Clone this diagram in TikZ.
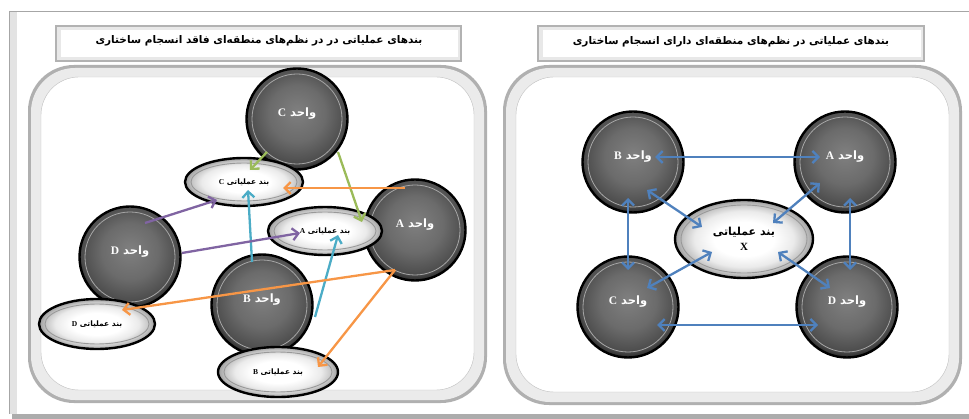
\documentclass[tikz,border=0pt]{standalone}
\usepackage{fontspec}
\usetikzlibrary{shapes.geometric,arrows.meta,calc}
\TeXXeTstate=1
\newfontfamily\fafont[Script=Arabic]{DejaVu Sans}
\newfontfamily\latfont{Liberation Serif}
\newcommand{\fa}[1]{{\fafont\bfseries\beginR #1\endR}}
\newcommand{\lt}[1]{{\latfont\bfseries #1}}

\definecolor{bandblue}{HTML}{4F81BD}
\definecolor{bandgreen}{HTML}{9BBB59}
\definecolor{bandorange}{HTML}{F79646}
\definecolor{bandcyan}{HTML}{4BACC6}
\definecolor{bandpurple}{HTML}{8064A2}

\pgfdeclareradialshading{unitshade}{\pgfpoint{0bp}{4bp}}{%
  color(0bp)=(black!50); color(14bp)=(black!58); color(24bp)=(black!70);
  color(26bp)=(black!80); color(50bp)=(black!80)}
\pgfdeclareradialshading{clauseshade}{\pgfpoint{0bp}{0bp}}{%
  color(0bp)=(white); color(11bp)=(white); color(18bp)=(black!8);
  color(22bp)=(black!22); color(25bp)=(black!38); color(50bp)=(black!38)}

\tikzset{
  >={Straight Barb[length=6pt,width=12pt]},
  unit/.style={circle,draw=black,line width=2.4pt,minimum size=101pt,inner sep=0pt,
    shading=unitshade,
    path picture={\draw[black!35,line width=0.8pt] (path picture bounding box.center) circle (45pt);}},
  unittext/.style={text=white,font=\fontsize{11.5}{12}\selectfont,yshift=5pt},
  clause/.style n args={2}{ellipse,draw=black,line width=2.4pt,inner sep=0pt,
    minimum width=#1,minimum height=#2,
    shading=clauseshade,
    path picture={\draw[black!40,line width=0.9pt] (path picture bounding box.center)
      ellipse [x radius=#1/2-6pt, y radius=#2/2-5pt];}},
  clausetext/.style={font=\fontsize{7.5}{8}\selectfont},
  link/.style={line width=2.3pt},
}

\begin{document}
\begin{tikzpicture}[x=1pt,y=-1pt]
  \useasboundingbox (0,0) rectangle (969,419);
  \fill[white] (0,0) rectangle (969,419);

  % outer frame
  \fill[gray!22] (9,11) rectangle (17,414);
  \draw[gray!70] (9,11) -- (969,11);
  \draw[gray!70] (9,11) -- (9,414);
  \fill[gray!65] (12,414) rectangle (969,419);

  % title boxes
  \fill[gray!60] (55,25) rectangle (462,62);
  \fill[gray!18] (57,27) rectangle (460,60);
  \fill[white] (61,30) rectangle (458,57);
  \node (ttlL) at (259,41) {\fontsize{10.5}{12}\selectfont\fa{بندهای عملیاتی در در نظم‌های منطقه‌ای فاقد انسجام ساختاری}};

  \fill[gray!60] (537,25) rectangle (925,62);
  \fill[gray!18] (539,27) rectangle (923,60);
  \fill[white] (543,30) rectangle (921,57);
  \node (ttlR) at (731,42) {\fontsize{10.5}{12}\selectfont\fa{بندهای عملیاتی در نظم‌های منطقه‌ای دارای انسجام ساختاری}};

  % panels
  \fill[gray!62,rounded corners=46pt] (28,65) rectangle (487,403);
  \fill[gray!16,rounded corners=44pt] (31,68) rectangle (484,400);
  \draw[gray!50,fill=white,rounded corners=38pt] (41,77) rectangle (474,390);

  \fill[gray!62,rounded corners=46pt] (503,65) rectangle (962,405);
  \fill[gray!16,rounded corners=44pt] (506,68) rectangle (959,402);
  \draw[gray!50,fill=white,rounded corners=38pt] (516,77) rectangle (949,392);

  % left: units
  \node[unit,label={[unittext]center:\fa{واحد \lt{C}}}] (cC) at (297,119) {};
  \node[unit,label={[unittext]center:\fa{واحد \lt{A}}}] (cA) at (415,230) {};
  \node[unit,label={[unittext]center:\fa{واحد \lt{D}}}] (cD) at (130,257) {};
  \node[unit,label={[unittext]center:\fa{واحد \lt{B}}}] (cB) at (262,305) {};

  % left: operational clauses
  \node[clause={118pt}{48pt},clausetext] (eC) at (244,182) {\fa{بند عملیاتی \lt{C}}};
  \node[clause={114pt}{48pt},clausetext] (eA) at (325,231) {\fa{بند عملیاتی \lt{A}}};
  \node[clause={116pt}{50pt},clausetext] (eD) at (97,324) {\fa{بند عملیاتی \lt{D}}};
  \node[clause={120pt}{50pt},clausetext] (eB) at (278,372) {\fa{بند عملیاتی \lt{B}}};

  % left: links
  \draw[->,link,bandgreen] ($(cC)+(-30,33)$) -- ($(eC)+(6,-12)$);
  \draw[->,link,bandgreen] ($(cC)+(41,33)$) -- ($(eA)+(37,-9)$);
  \draw[->,link,bandorange] ($(cA)+(-10,-42)$) -- ($(eC)+(39,6)$);
  \draw[->,link,bandcyan] ($(cB)+(-10,-43)$) -- ($(eC)+(4,8)$);
  \draw[->,link,bandcyan] ($(cB)+(53,12)$) -- ($(eA)+(13,4)$);
  \draw[->,link,bandpurple] ($(cD)+(15,-34)$) -- ($(eC)+(-27,18)$);
  \draw[->,link,bandpurple] ($(cD)+(52,-4)$) -- ($(eA)+(-25,2)$);
  \draw[->,link,bandorange] ($(cA)+(-20,40)$) -- ($(eD)+(25,-14)$);
  \draw[->,link,bandorange] ($(cA)+(-20,40)$) -- ($(eB)+(40,-5)$);

  % right: units and shared clause
  \node[unit,label={[unittext]center:\fa{واحد \lt{B}}}] (nB) at (633,162) {};
  \node[unit,label={[unittext]center:\fa{واحد \lt{A}}}] (nA) at (845,162) {};
  \node[unit,label={[unittext]center:\fa{واحد \lt{C}}}] (nC) at (628,307) {};
  \node[unit,label={[unittext]center:\fa{واحد \lt{D}}}] (nD) at (847,307) {};
  \node[clause={138pt}{78pt},align=center,font=\fontsize{11}{15}\selectfont] (eX) at (744,239)
    {\fa{بند عملیاتی}\\\lt{X}};

  % right: links
  \draw[<->,link,bandblue] ($(nB)+(22,-5)$) -- ($(nA)+(-25,-5)$);
  \draw[<->,link,bandblue] ($(nB)+(14,28)$) -- ($(eX)+(-42,-12)$);
  \draw[<->,link,bandblue] ($(nA)+(-25,21)$) -- ($(eX)+(29,-16)$);
  \draw[<->,link,bandblue] ($(eX)+(-32,13)$) -- ($(nC)+(19,-19)$);
  \draw[<->,link,bandblue] ($(eX)+(34,13)$) -- ($(nD)+(-17,-19)$);
  \draw[<->,link,bandblue] ($(nC)+(29,18)$) -- ($(nD)+(-29,18)$);
  \draw[<->,link,bandblue] ($(nB)+(-5,36)$) -- ($(nC)+(0,-37)$);
  \draw[<->,link,bandblue] ($(nA)+(5,36)$) -- ($(nD)+(3,-37)$);
\end{tikzpicture}
\end{document}
